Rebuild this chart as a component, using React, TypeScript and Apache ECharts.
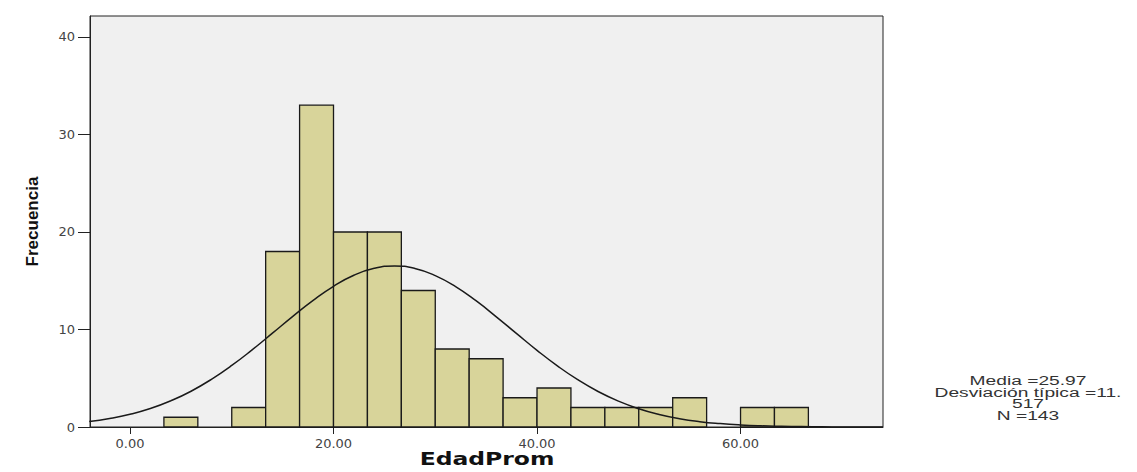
import React, { useEffect, useRef } from "react";
import * as echarts from "echarts";

// Histogram bins (EdadProm), width 10/3
const binStart = [3.333, 10, 13.333, 16.667, 20, 23.333, 26.667, 30, 33.333, 36.667, 40, 43.333, 46.667, 50, 53.333, 60, 63.333];
const binEnd = [6.667, 13.333, 16.667, 20, 23.333, 26.667, 30, 33.333, 36.667, 40, 43.333, 46.667, 50, 53.333, 56.667, 63.333, 66.667];
const counts = [1, 2, 18, 33, 20, 20, 14, 8, 7, 3, 4, 2, 2, 2, 3, 2, 2];

// Normal curve
const curveX = [-4, -2, 0, 2, 4, 6, 8, 10, 12, 14, 16, 18, 20, 22, 24, 26, 28, 30, 32, 34, 36, 38, 40, 42, 44, 46, 48, 50, 52, 54, 56, 58, 60, 62, 64, 66, 68, 70, 72, 74];
const curveY = [0.56, 0.87, 1.3, 1.89, 2.68, 3.67, 4.89, 6.31, 7.91, 9.62, 11.35, 12.99, 14.43, 15.56, 16.27, 16.51, 16.26, 15.53, 14.4, 12.95, 11.3, 9.57, 7.86, 6.27, 4.85, 3.64, 2.65, 1.87, 1.28, 0.85, 0.55, 0.35, 0.21, 0.12, 0.07, 0.04, 0.02, 0.01, 0.01, 0.0];

const xTicks = [0, 20, 40, 60];
const statsLines = ["Media =25.97", "Desviación típica =11.", "517", "N =143"];

export default function App() {
  const ref = useRef<HTMLDivElement>(null);
  useEffect(() => {
    if (!ref.current) return;
    const chart = echarts.init(ref.current, undefined, { renderer: "svg" });
    const barData = counts.map((c, i) => [binStart[i], binEnd[i], c]);
    const lineData = curveX.map((x, i) => [x, curveY[i]]);
    chart.setOption({
      animation: false,
      backgroundColor: "#ffffff",
      grid: {
        left: 90,
        right: 254,
        top: 16,
        bottom: 45,
        show: true,
        backgroundColor: "#f0f0f0",
        borderColor: "#222",
        borderWidth: 1,
      },
      xAxis: {
        type: "value",
        min: -3.93,
        max: 74,
        splitLine: { show: false },
        axisLine: { show: true, onZero: false, lineStyle: { color: "#222", width: 1 } },
        axisTick: { show: true, length: 7, customValues: xTicks, lineStyle: { color: "#222" } },
        axisLabel: {
          customValues: xTicks,
          formatter: (v: number) => v.toFixed(2),
          margin: 10,
          fontFamily: "DejaVu Sans",
          fontSize: 13,
          color: "#444",
        },
      },
      yAxis: {
        type: "value",
        min: 0,
        max: 42.15,
        interval: 10,
        name: "Frecuencia",
        nameLocation: "middle",
        nameRotate: 90,
        nameGap: 49,
        nameTextStyle: {
          fontFamily: "Liberation Sans",
          fontWeight: "bold",
          fontSize: 17,
          color: "#111",
        },
        splitLine: { show: false },
        axisLine: { show: true, onZero: false, lineStyle: { color: "#222", width: 1 } },
        axisTick: { show: true, length: 12, lineStyle: { color: "#222" } },
        axisLabel: {
          margin: 15,
          fontFamily: "DejaVu Sans",
          fontSize: 13,
          color: "#444",
          showMaxLabel: false,
        },
      },
      graphic: [
        {
          type: "text",
          x: 487,
          y: 459,
          scaleX: 1.38,
          style: {
            text: "EdadProm",
            fontFamily: "DejaVu Sans",
            fontWeight: "bold",
            fontSize: 17,
            fill: "#111",
            textAlign: "center",
            textVerticalAlign: "middle",
          },
        },
        ...statsLines.map((t, i) => ({
          type: "text",
          x: 1028,
          y: 381 + i * 11.5,
          scaleX: 1.6,
          style: {
            text: t,
            fontFamily: "Liberation Sans",
            fontSize: 12,
            fill: "#333",
            textAlign: "center",
            textVerticalAlign: "middle",
          },
        })),
      ],
      series: [
        {
          type: "custom",
          data: barData,
          encode: { x: [0, 1], y: 2 },
          z: 2,
          renderItem: (params: any, api: any) => {
            const p0 = api.coord([api.value(0), api.value(2)]);
            const p1 = api.coord([api.value(1), 0]);
            return {
              type: "rect",
              shape: { x: p0[0], y: p0[1], width: p1[0] - p0[0], height: p1[1] - p0[1] },
              style: { fill: "#d8d49a", stroke: "#1a1a1a", lineWidth: 1.3 },
            };
          },
        },
        {
          type: "line",
          data: lineData,
          smooth: true,
          showSymbol: false,
          z: 3,
          lineStyle: { color: "#1a1a1a", width: 1.5 },
        },
      ],
    });
    return () => chart.dispose();
  }, []);
  return (
    <div
      ref={ref}
      style={{ position: "fixed", left: 0, top: 0, width: 1137, height: 472 }}
    />
  );
}
